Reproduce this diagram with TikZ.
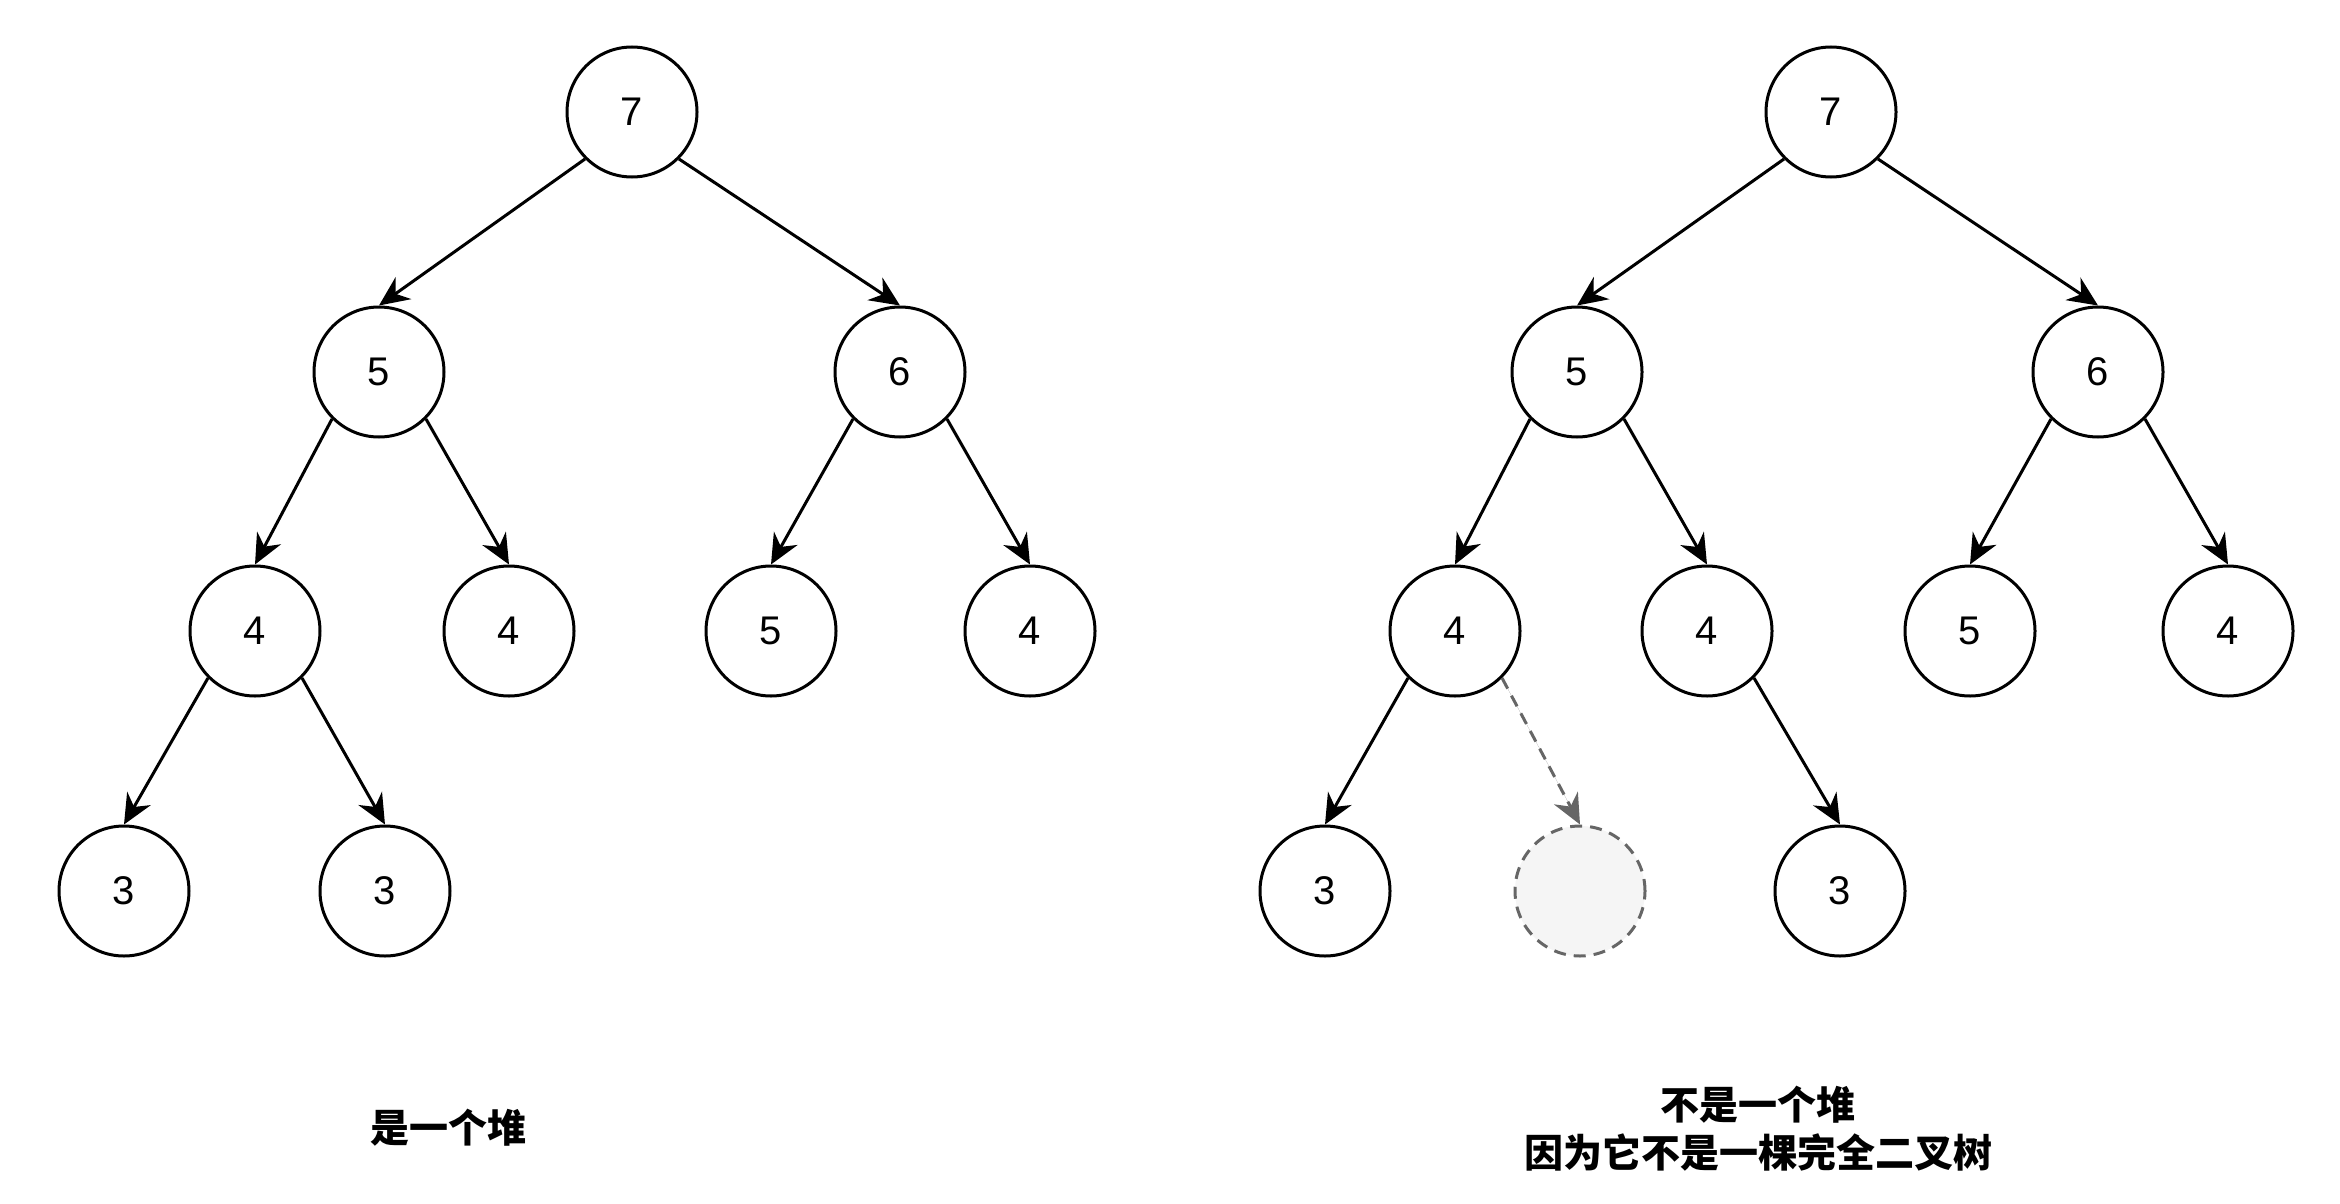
\documentclass[tikz,border=0pt]{standalone}
\usepackage{fontspec}
\setmainfont{Liberation Sans}
\newfontfamily\cjk{Noto Sans CJK SC}
\usetikzlibrary{arrows.meta}
\definecolor{ghostgray}{HTML}{666666}
\definecolor{ghostfill}{HTML}{F5F5F5}
\begin{document}
\begin{tikzpicture}[x=0.5pt,y=-0.5pt,
        heapnode/.style={circle, draw, line width=1.5pt, minimum size=65pt, inner sep=0pt, font=\fontsize{20}{24}\selectfont},
        ghostnode/.style={heapnode, draw=ghostgray, fill=ghostfill, dashed, dash pattern=on 6pt off 4pt},
        edge/.style={-{Stealth[length=15pt,width=13.5pt]}, line width=1.5pt},
        ghostedge/.style={edge, draw=ghostgray, fill=ghostgray, dash pattern=on 6pt off 4pt},
        caption/.style={font=\cjk\bfseries\fontsize{19.5}{24}\selectfont, align=center}]
    \useasboundingbox (0,0) rectangle (2340,1204);
    % left tree: a heap
    \node [heapnode] (l7) at (632,112) {7};
    \node [heapnode] (l5) at (379,372) {5};
    \node [heapnode] (l6) at (900,372) {6};
    \node [heapnode] (l4a) at (255,631) {4};
    \node [heapnode] (l4b) at (509,631) {4};
    \node [heapnode] (l5b) at (771,631) {5};
    \node [heapnode] (l4c) at (1030,631) {4};
    \node [heapnode] (l3a) at (124,891) {3};
    \node [heapnode] (l3b) at (385,891) {3};
    \draw [edge] (l7.south west) -- (l5.north);
    \draw [edge] (l7.south east) -- (l6.north);
    \draw [edge] (l5.south west) -- (l4a.north);
    \draw [edge] (l5.south east) -- (l4b.north);
    \draw [edge] (l6.south west) -- (l5b.north);
    \draw [edge] (l6.south east) -- (l4c.north);
    \draw [edge] (l4a.south west) -- (l3a.north);
    \draw [edge] (l4a.south east) -- (l3b.north);
    \node [caption] (lcap) at (448,1128) {是一个堆};
    % right tree: not complete
    \node [heapnode] (r7) at (1831,112) {7};
    \node [heapnode] (r5) at (1577,372) {5};
    \node [heapnode] (r6) at (2098,372) {6};
    \node [heapnode] (r4a) at (1455,631) {4};
    \node [heapnode] (r4b) at (1707,631) {4};
    \node [heapnode] (r5b) at (1970,631) {5};
    \node [heapnode] (r4c) at (2228,631) {4};
    \node [heapnode] (r3a) at (1325,891) {3};
    \node [ghostnode] (rgap) at (1580,891) {};
    \node [heapnode] (r3b) at (1840,891) {3};
    \draw [edge] (r7.south west) -- (r5.north);
    \draw [edge] (r7.south east) -- (r6.north);
    \draw [edge] (r5.south west) -- (r4a.north);
    \draw [edge] (r5.south east) -- (r4b.north);
    \draw [edge] (r6.south west) -- (r5b.north);
    \draw [edge] (r6.south east) -- (r4c.north);
    \draw [edge] (r4a.south west) -- (r3a.north);
    \draw [ghostedge] (r4a.south east) -- (rgap.north);
    \draw [edge] (r4b.south east) -- (r3b.north);
    \node [caption] (rcap) at (1758,1129) {不是一个堆\\因为它不是一棵完全二叉树};
\end{tikzpicture}
\end{document}
